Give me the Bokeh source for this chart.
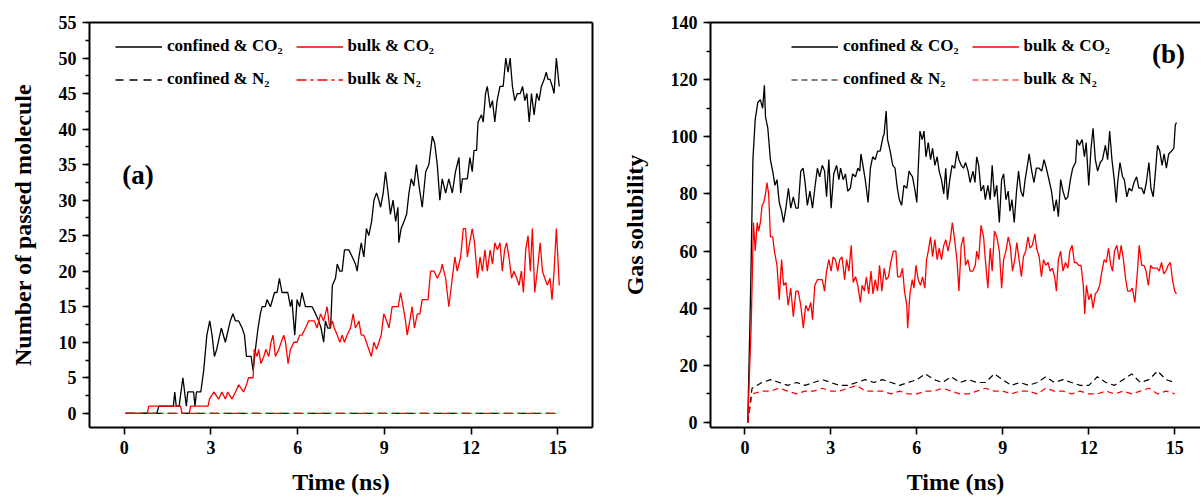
from bokeh.plotting import figure
from bokeh.models import (Range1d, SingleIntervalTicker, LinearAxis, FixedTicker,
                          Legend, LegendItem, Label)
from bokeh.layouts import row
from bokeh.embed import file_html
from bokeh.resources import INLINE

# ---------------- Panel (a): number of passed molecules ----------------
t_a_conf_co2 = [
    0.05, 1.13, 1.2, 1.7, 1.75, 1.8, 1.9, 2.03, 2.15, 2.2,
    2.4, 2.45, 2.5, 2.65, 2.75, 2.86, 2.96, 3.04, 3.12, 3.2,
    3.36, 3.5, 3.67, 3.76, 3.85, 3.96, 4.08, 4.16, 4.23, 4.39,
    4.46, 4.54, 4.63, 4.71, 4.77, 4.88, 4.94, 5.06, 5.2, 5.29,
    5.37, 5.46, 5.58, 5.66, 5.75, 5.8, 5.9, 5.98, 6.07, 6.15,
    6.27, 6.38, 6.5, 6.62, 6.73, 6.81, 6.9, 6.96, 7.04, 7.14,
    7.2, 7.31, 7.37, 7.46, 7.54, 7.62, 7.77, 7.89, 8.0, 8.06,
    8.12, 8.2, 8.29, 8.38, 8.46, 8.56, 8.64, 8.73, 8.81, 8.87,
    8.96, 9.04, 9.13, 9.21, 9.3, 9.39, 9.47, 9.5, 9.58, 9.68,
    9.77, 9.85, 9.93, 10.02, 10.11, 10.2, 10.31, 10.43, 10.54, 10.66,
    10.74, 10.83, 10.92, 11.0, 11.12, 11.23, 11.35, 11.46, 11.58, 11.64,
    11.7, 11.87, 11.96, 12.04, 12.1, 12.19, 12.24, 12.36, 12.42, 12.5,
    12.56, 12.66, 12.74, 12.82, 12.9, 13.0, 13.11, 13.2, 13.28, 13.35,
    13.43, 13.51, 13.6, 13.7, 13.78, 13.86, 13.93, 14.01, 14.09, 14.18,
    14.27, 14.35, 14.43, 14.53, 14.6, 14.66, 14.73, 14.81, 14.87, 14.95,
    15.05]
n_a_conf_co2 = [
    0, 0, 1, 1, 3, 1, 1, 5, 1, 3,
    3, 1, 3, 3, 6, 11, 13, 11, 8, 9,
    12, 10, 13, 14, 13, 13, 12, 11, 8, 8,
    6, 9, 12, 14, 15, 15, 16, 15, 17, 17,
    19, 17, 17, 17, 15, 16, 11, 16, 15, 17,
    15, 15, 15, 14, 13, 12, 10, 13, 12, 12,
    18, 19, 21, 20, 20, 23, 23, 22, 21, 20,
    22, 24, 22, 26, 25, 27, 30, 31, 30, 29,
    31, 34, 31, 28, 30, 27, 29, 24, 26, 27,
    28, 31, 33, 32, 35, 32, 29, 34, 35, 39,
    38, 35, 30, 33, 31, 33, 31, 34, 36, 31,
    33, 33, 36, 34, 37, 37, 41, 42, 41, 45,
    46, 43, 44, 41, 44, 46, 46, 50, 48, 50,
    46, 44, 45, 45, 46, 44, 45, 41, 45, 42,
    45, 44, 46, 47, 48, 47, 47, 46, 45, 50,
    46]

t_a_bulk_co2 = [
    0.05, 0.8, 0.85, 1.95, 2.0, 2.25, 2.3, 2.9, 2.95, 3.1,
    3.27, 3.38, 3.5, 3.58, 3.73, 3.85, 3.96, 4.13, 4.23, 4.3,
    4.46, 4.5, 4.6, 4.65, 4.73, 4.83, 4.9, 5.0, 5.08, 5.15,
    5.23, 5.35, 5.43, 5.52, 5.58, 5.67, 5.75, 5.87, 5.98, 6.07,
    6.15, 6.27, 6.38, 6.5, 6.58, 6.67, 6.79, 6.9, 7.02, 7.11,
    7.2, 7.27, 7.37, 7.46, 7.54, 7.62, 7.71, 7.83, 7.92, 8.0,
    8.12, 8.2, 8.29, 8.38, 8.46, 8.55, 8.64, 8.73, 8.81, 8.89,
    8.98, 9.08, 9.16, 9.27, 9.39, 9.48, 9.56, 9.65, 9.73, 9.79,
    9.88, 9.96, 10.04, 10.14, 10.23, 10.31, 10.43, 10.51, 10.6, 10.72,
    10.83, 10.95, 11.0, 11.12, 11.23, 11.35, 11.44, 11.52, 11.64, 11.73,
    11.81, 11.87, 11.95, 12.04, 12.12, 12.22, 12.31, 12.39, 12.48, 12.56,
    12.66, 12.74, 12.82, 12.91, 13.0, 13.08, 13.16, 13.23, 13.31, 13.4,
    13.48, 13.58, 13.66, 13.74, 13.81, 13.89, 13.97, 14.05, 14.12, 14.2,
    14.29, 14.39, 14.47, 14.55, 14.64, 14.73, 14.8, 14.87, 14.95, 15.05]
n_a_bulk_co2 = [
    0, 0, 1, 1, 0, 0, 1, 1, 2, 3,
    2, 3, 2, 3, 2, 3, 4, 3, 4, 5,
    5, 9, 8, 9, 7, 8, 9, 8, 10, 11,
    8, 9, 10, 11, 10, 7, 9, 10, 10, 11,
    11, 12, 13, 13, 13, 12, 14, 13, 15, 12,
    13, 12, 11, 10, 11, 10, 11, 12, 14, 12,
    13, 11, 11, 10, 9, 8, 10, 9, 10, 11,
    14, 13, 12, 15, 15, 15, 17, 15, 13, 11,
    13, 15, 12, 14, 14, 16, 16, 16, 20, 20,
    19, 20, 21, 19, 15, 19, 22, 20, 22, 26,
    26, 22, 24, 26, 24, 19, 22, 20, 23, 20,
    23, 21, 24, 23, 24, 20, 23, 24, 22, 19,
    20, 19, 18, 20, 17, 23, 25, 20, 26, 17,
    20, 24, 20, 19, 18, 19, 16, 20, 26, 18]

t_a_n2 = [0.05, 15.05]
n_a_conf_n2 = [0, 0]
n_a_bulk_n2 = [0, 0]

# ---------------- Panel (b): gas solubility ----------------
t_b_conf_co2 = [
    0.1, 0.2, 0.28, 0.36, 0.45, 0.54, 0.62, 0.68, 0.72, 0.8,
    0.89, 0.97, 1.05, 1.12, 1.2, 1.28, 1.35, 1.43, 1.52, 1.6,
    1.69, 1.78, 1.86, 1.95, 2.03, 2.09, 2.18, 2.27, 2.36, 2.44,
    2.53, 2.61, 2.7, 2.78, 2.85, 2.93, 3.01, 3.1, 3.2, 3.28,
    3.34, 3.43, 3.51, 3.59, 3.68, 3.76, 3.86, 3.94, 4.01, 4.05,
    4.12, 4.2, 4.3, 4.38, 4.46, 4.55, 4.63, 4.72, 4.82, 4.86,
    4.93, 4.98, 5.07, 5.16, 5.24, 5.32, 5.39, 5.47, 5.55, 5.65,
    5.73, 5.78, 5.85, 5.94, 6.0, 6.05, 6.11, 6.19, 6.25, 6.32,
    6.4, 6.48, 6.55, 6.63, 6.71, 6.78, 6.86, 6.94, 7.01, 7.07,
    7.15, 7.23, 7.32, 7.4, 7.47, 7.55, 7.63, 7.7, 7.79, 7.86,
    7.96, 8.03, 8.09, 8.16, 8.24, 8.33, 8.39, 8.48, 8.56, 8.63,
    8.71, 8.79, 8.88, 8.96, 9.03, 9.11, 9.19, 9.25, 9.32, 9.4,
    9.48, 9.55, 9.63, 9.71, 9.78, 9.86, 9.92, 10.01, 10.09, 10.17,
    10.27, 10.36, 10.44, 10.52, 10.61, 10.7, 10.79, 10.87, 10.94, 11.02,
    11.1, 11.19, 11.27, 11.36, 11.44, 11.54, 11.59, 11.67, 11.77, 11.85,
    11.91, 12.0, 12.08, 12.15, 12.23, 12.31, 12.4, 12.48, 12.58, 12.66,
    12.73, 12.81, 12.89, 12.96, 13.01, 13.09, 13.18, 13.24, 13.33, 13.41,
    13.5, 13.58, 13.67, 13.75, 13.85, 13.93, 14.01, 14.1, 14.17, 14.25,
    14.33, 14.4, 14.48, 14.56, 14.63, 14.71, 14.79, 14.89, 14.97, 15.02,
    15.06]
s_b_conf_co2 = [
    0, 46, 92, 106, 112, 113, 110, 118, 107, 103,
    92, 88, 83, 85, 77, 74, 70, 75, 82, 75,
    79, 75, 75, 88, 89, 85, 76, 81, 75, 82,
    89, 86, 90, 88, 79, 92, 75, 87, 90, 85,
    89, 85, 87, 81, 82, 87, 86, 89, 88, 94,
    90, 85, 77, 89, 93, 92, 95, 95, 100, 101,
    109, 99, 95, 90, 89, 82, 78, 76, 83, 82,
    88, 87, 86, 81, 77, 89, 102, 99, 102, 93,
    98, 92, 96, 90, 93, 88, 85, 80, 89, 78,
    85, 90, 89, 95, 92, 90, 89, 91, 88, 84,
    88, 84, 93, 90, 81, 83, 78, 83, 78, 90,
    79, 83, 70, 85, 87, 78, 81, 74, 78, 70,
    81, 88, 81, 79, 85, 90, 94, 88, 84, 89,
    89, 88, 92, 89, 85, 81, 74, 78, 72, 85,
    81, 78, 79, 85, 89, 91, 99, 97, 99, 93,
    98, 83, 96, 103, 92, 88, 91, 92, 97, 92,
    102, 92, 85, 77, 84, 91, 86, 85, 79, 82,
    81, 84, 86, 82, 82, 80, 84, 91, 82, 79,
    88, 97, 95, 90, 94, 89, 94, 95, 96, 104,
    105]

t_b_bulk_co2 = [
    0.1, 0.22, 0.3, 0.36, 0.43, 0.48, 0.54, 0.6, 0.66, 0.72,
    0.77, 0.83, 0.89, 0.97, 1.03, 1.12, 1.2, 1.28, 1.35, 1.43,
    1.51, 1.6, 1.69, 1.78, 1.86, 1.95, 2.04, 2.12, 2.21, 2.3,
    2.36, 2.44, 2.53, 2.61, 2.7, 2.78, 2.85, 2.93, 3.01, 3.08,
    3.16, 3.24, 3.31, 3.39, 3.48, 3.55, 3.63, 3.71, 3.78, 3.86,
    3.94, 4.03, 4.09, 4.17, 4.24, 4.32, 4.4, 4.47, 4.55, 4.63,
    4.7, 4.78, 4.86, 4.93, 5.01, 5.09, 5.18, 5.27, 5.33, 5.42,
    5.5, 5.57, 5.65, 5.68, 5.76, 5.84, 5.9, 5.97, 6.05, 6.13,
    6.2, 6.28, 6.34, 6.4, 6.48, 6.55, 6.63, 6.71, 6.78, 6.86,
    6.94, 7.01, 7.09, 7.17, 7.24, 7.32, 7.4, 7.47, 7.55, 7.63,
    7.7, 7.78, 7.86, 7.96, 8.04, 8.09, 8.16, 8.24, 8.33, 8.39,
    8.48, 8.56, 8.63, 8.71, 8.79, 8.88, 8.96, 9.03, 9.11, 9.19,
    9.26, 9.34, 9.42, 9.49, 9.57, 9.65, 9.72, 9.8, 9.88, 9.95,
    10.03, 10.12, 10.18, 10.27, 10.35, 10.42, 10.5, 10.58, 10.65, 10.73,
    10.81, 10.87, 10.94, 11.02, 11.1, 11.19, 11.27, 11.34, 11.42, 11.5,
    11.57, 11.65, 11.73, 11.81, 11.86, 11.92, 12.0, 12.08, 12.15, 12.23,
    12.31, 12.38, 12.46, 12.54, 12.61, 12.69, 12.77, 12.83, 12.9, 12.98,
    13.06, 13.13, 13.21, 13.29, 13.36, 13.44, 13.52, 13.61, 13.7, 13.76,
    13.85, 13.93, 14.0, 14.08, 14.16, 14.23, 14.31, 14.39, 14.46, 14.54,
    14.62, 14.69, 14.77, 14.85, 14.92, 15.0, 15.06]
s_b_bulk_co2 = [
    0, 34, 70, 60, 70, 67, 70, 76, 77, 80,
    84, 80, 65, 65, 60, 55, 43, 57, 48, 49,
    41, 47, 37, 46, 46, 41, 33, 41, 39, 42,
    36, 48, 50, 50, 50, 46, 53, 57, 53, 58,
    57, 53, 57, 58, 50, 57, 53, 62, 49, 51,
    48, 42, 48, 46, 51, 45, 53, 45, 50, 46,
    55, 46, 54, 50, 51, 56, 60, 60, 51, 51,
    54, 46, 41, 33, 45, 50, 47, 55, 50, 48,
    51, 47, 57, 60, 65, 58, 64, 57, 61, 57,
    62, 64, 60, 64, 70, 64, 57, 46, 62, 65,
    55, 57, 53, 53, 55, 60, 57, 69, 65, 57,
    47, 61, 53, 67, 65, 60, 47, 57, 60, 65,
    62, 53, 57, 63, 57, 51, 58, 60, 65, 61,
    62, 66, 61, 58, 51, 57, 55, 56, 53, 54,
    51, 46, 57, 60, 53, 56, 54, 60, 62, 56,
    56, 55, 55, 48, 38, 48, 43, 45, 40, 45,
    46, 48, 53, 57, 56, 61, 55, 53, 60, 62,
    57, 62, 57, 50, 46, 46, 47, 42, 53, 62,
    55, 55, 53, 48, 55, 54, 54, 54, 53, 56,
    52, 53, 55, 56, 50, 46, 45]

t_b_n2 = [
    0.1, 0.25, 0.6, 0.9, 1.2, 1.5, 1.8, 2.1, 2.4, 2.7,
    3.0, 3.3, 3.6, 3.9, 4.2, 4.5, 4.8, 5.1, 5.4, 5.7,
    6.0, 6.3, 6.6, 6.9, 7.2, 7.5, 7.8, 8.1, 8.4, 8.7,
    9.0, 9.3, 9.6, 9.9, 10.2, 10.5, 10.8, 11.1, 11.4, 11.7,
    12.0, 12.3, 12.6, 12.9, 13.2, 13.5, 13.8, 14.1, 14.4, 14.7,
    15.0]
s_b_conf_n2 = [
    0, 12, 14, 15, 14, 13, 14, 13, 14, 15,
    14, 13, 13, 14, 15, 14, 15, 14, 13, 14,
    15, 17, 15, 14, 16, 14, 15, 14, 14, 17,
    15, 13, 14, 13, 14, 16, 14, 15, 14, 13,
    13, 16, 14, 13, 15, 17, 14, 15, 18, 15,
    14]
s_b_bulk_n2 = [
    0, 10, 11, 11, 12, 11, 10, 11, 11, 12,
    11, 11, 12, 13, 11, 11, 11, 10, 11, 10,
    10, 11, 11, 12, 11, 10, 10, 11, 12, 11,
    11, 10, 11, 11, 10, 12, 11, 11, 10, 11,
    10, 10, 11, 10, 11, 10, 11, 12, 10, 11,
    10]

x_ticks = [0, 3, 6, 9, 12, 15]
series_labels = ["confined & CO\u2082", "bulk & CO\u2082", "confined & N\u2082", "bulk & N\u2082"]

for a, b in [(t_a_conf_co2, n_a_conf_co2), (t_a_bulk_co2, n_a_bulk_co2),
             (t_b_conf_co2, s_b_conf_co2), (t_b_bulk_co2, s_b_bulk_co2),
             (t_b_n2, s_b_conf_n2), (t_b_n2, s_b_bulk_n2)]:
    assert len(a) == len(b), (len(a), len(b))

FONT = "Liberation Serif"


def style_axes(p, y_interval, ylabel):
    xa = p.xaxis[0]
    xa.ticker = FixedTicker(ticks=x_ticks)
    ya = p.yaxis[0]
    ya.ticker = SingleIntervalTicker(interval=y_interval, num_minor_ticks=2)
    for ax in (xa, ya):
        ax.axis_line_width = 2
        ax.axis_line_color = "black"
        ax.major_tick_line_width = 1.6
        ax.minor_tick_line_width = 1.4
        ax.major_tick_in = 0
        ax.major_tick_out = 7
        ax.minor_tick_in = 0
        ax.minor_tick_out = 4
        ax.major_label_text_font = FONT
        ax.major_label_text_font_style = "bold"
        ax.major_label_text_font_size = "18px"
        ax.major_label_text_color = "black"
        ax.axis_label_text_font = FONT
        ax.axis_label_text_font_style = "bold"
        ax.axis_label_text_font_size = "24px"
        ax.axis_label_text_color = "black"
        ax.major_label_standoff = 6
    xa.minor_tick_line_color = None
    xa.axis_label = "Time (ns)"
    xa.axis_label_standoff = 12
    ya.axis_label = ylabel
    ya.axis_label_standoff = 20
    # frame lines drawn as plain axes
    top = LinearAxis(ticker=FixedTicker(ticks=[]), axis_line_width=2,
                     major_tick_out=0, major_tick_in=0, minor_tick_out=0,
                     major_label_standoff=0, major_label_text_font_size="0px")
    p.add_layout(top, "above")


def base_fig(width, x_end, y_start, y_end, border_right):
    p = figure(width=width, height=502,
               x_range=Range1d(-1.2, x_end), y_range=Range1d(y_start, y_end),
               output_backend="svg", toolbar_location=None,
               min_border_left=89, min_border_right=border_right,
               min_border_top=22, min_border_bottom=75)
    p.grid.visible = False
    p.outline_line_color = None
    p.background_fill_color = "white"
    p.border_fill_color = "white"
    return p


def make_legend(items, loc):
    lg = Legend(items=items, location=loc, orientation="vertical", ncols=2,
                glyph_width=47, glyph_height=19, label_height=19,
                label_standoff=5, spacing=13, padding=0, margin=0,
                border_line_color=None, background_fill_alpha=0,
                label_text_font=FONT, label_text_font_style="bold",
                label_text_font_size="17px", label_text_color="black")
    return lg


# ----- panel (a)
pa = base_fig(618, 16.2, -2, 55, 26)
style_axes(pa, 5, "Number of passed molecule")
right = LinearAxis(ticker=FixedTicker(ticks=[]), axis_line_width=2,
                   major_tick_out=0, major_tick_in=0, minor_tick_out=0,
                   major_label_standoff=0, major_label_text_font_size="0px")
pa.add_layout(right, "right")

ra1 = pa.line(t_a_conf_co2, n_a_conf_co2, line_color="black", line_width=1.3)
ra2 = pa.line(t_a_bulk_co2, n_a_bulk_co2, line_color="red", line_width=1.3)
ra3 = pa.line(t_a_n2, n_a_conf_n2, line_color="black", line_width=1.3, line_dash="8 6")
ra4 = pa.line(t_a_n2, n_a_bulk_n2, line_color="red", line_width=1.3, line_dash="10 4 3 4")

pa.add_layout(make_legend([
    LegendItem(label=series_labels[0], renderers=[ra1]),
    LegendItem(label=series_labels[2], renderers=[ra3]),
    LegendItem(label=series_labels[1], renderers=[ra2]),
    LegendItem(label=series_labels[3], renderers=[ra4]),
], (26, 338)))
pa.add_layout(Label(x=0.48, y=33.5, text="(a)", text_font=FONT, text_font_style="bold",
                    text_font_size="27px", text_color="black",
                    text_align="center", text_baseline="middle"))

# ----- panel (b)
pb = base_fig(582, 15.9, -1.75, 140, 0)
style_axes(pb, 20, "Gas solubility")

rb3 = pb.line(t_b_n2, s_b_conf_n2, line_color="black", line_width=1.2, line_dash="6 4")
rb4 = pb.line(t_b_n2, s_b_bulk_n2, line_color="red", line_width=1.2, line_dash="6 4")
rb1 = pb.line(t_b_conf_co2, s_b_conf_co2, line_color="black", line_width=1.3)
rb2 = pb.line(t_b_bulk_co2, s_b_bulk_co2, line_color="red", line_width=1.3)

pb.add_layout(make_legend([
    LegendItem(label=series_labels[0], renderers=[rb1]),
    LegendItem(label=series_labels[2], renderers=[rb3]),
    LegendItem(label=series_labels[1], renderers=[rb2]),
    LegendItem(label=series_labels[3], renderers=[rb4]),
], (81, 338)))
pb.add_layout(Label(x=14.78, y=129, text="(b)", text_font=FONT, text_font_style="bold",
                    text_font_size="27px", text_color="black",
                    text_align="center", text_baseline="middle"))

layout = row(pa, pb)
open("out.html", "w").write(file_html(layout, INLINE))
